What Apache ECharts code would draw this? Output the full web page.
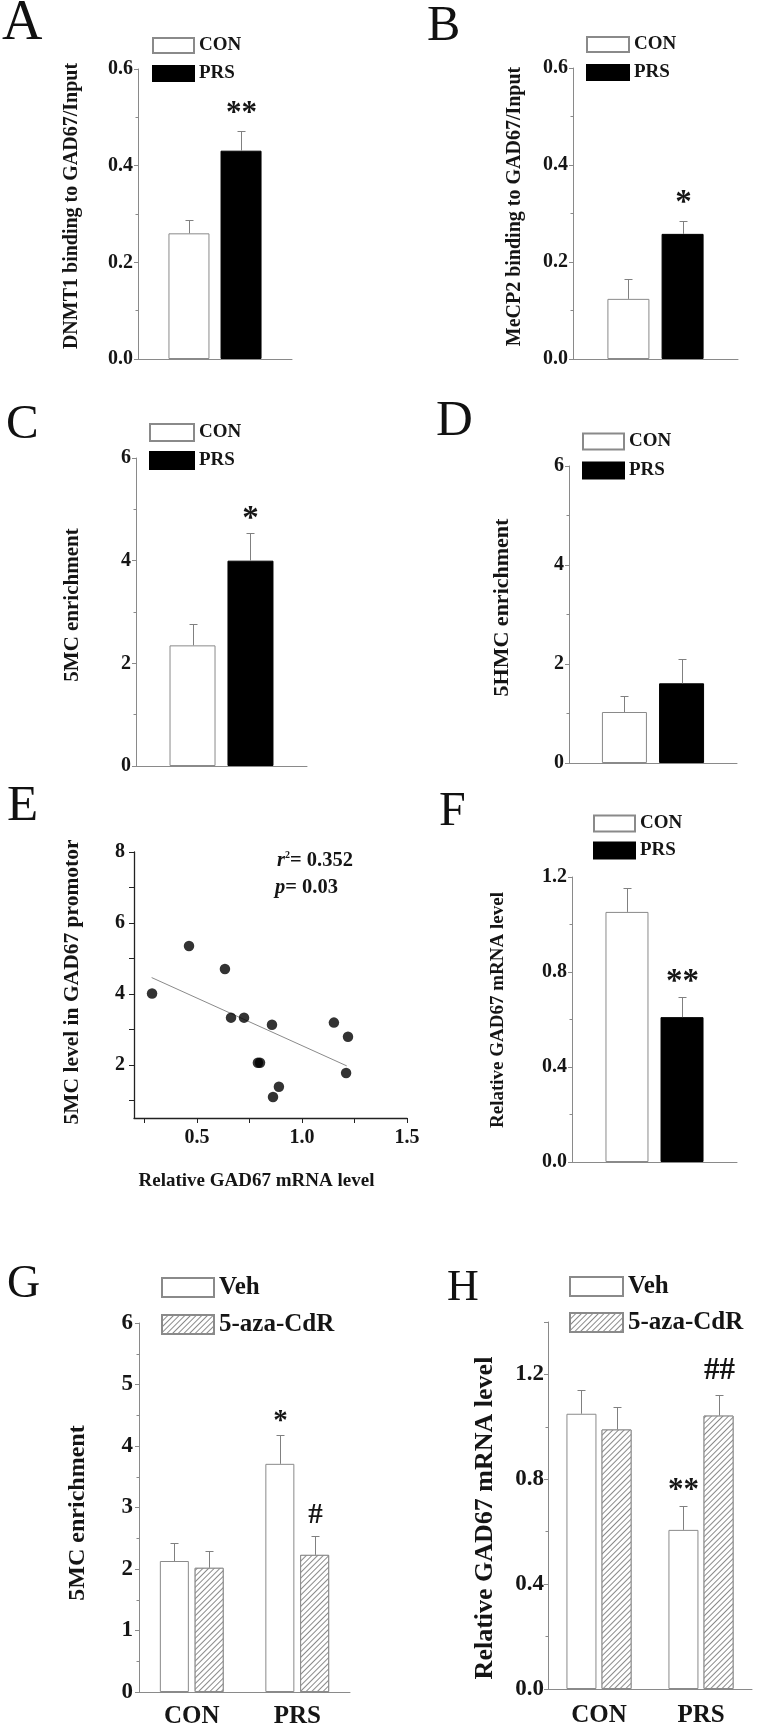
<!DOCTYPE html>
<html>
<head>
<meta charset="utf-8">
<script src="https://cdn.jsdelivr.net/npm/echarts@6.0.0/dist/echarts.min.js"></script>
<style>
html,body{margin:0;padding:0;background:#fff;}
#c{width:760px;height:1730px;}
</style>
</head>
<body>
<div id="c"></div>
<script>
// ================= DATA =================
const groupNames = ['CON', 'PRS'];          // A–F legend / series names
const A_mean = [0.26, 0.431];
const A_sem  = [0.027, 0.041];
const A_sig  = ['', '**'];
const B_mean = [0.124, 0.258];
const B_sem  = [0.041, 0.027];
const B_sig  = ['', '*'];
const C_mean = [2.35, 4.00];
const C_sem  = [0.41, 0.54];
const C_sig  = ['', '*'];
const D_mean = [1.03, 1.61];
const D_sem  = [0.32, 0.50];
const D_sig  = ['', ''];
const F_mean = [1.053, 0.61];
const F_sem  = [0.10, 0.085];
const F_sig  = ['', '**'];

// E: scatter + regression
const E_x = [0.286, 0.462, 0.633, 0.662, 0.724, 0.790, 0.800, 0.857, 0.862, 0.890, 1.152, 1.219, 1.210];
const E_y = [4.01, 5.35, 4.70, 3.33, 3.33, 2.06, 2.06, 3.13, 1.09, 1.38, 3.19, 2.79, 1.77];
const E_fit_x = [0.284, 1.213];
const E_fit_y = [4.46, 1.97];
const E_r2 = '0.352';
const E_p = '0.03';
const E_xTicks = [0.25, 0.5, 0.75, 1.0, 1.25, 1.5];
const E_xLabels = [0.5, 1.0, 1.5];
const E_yTicks = [1, 2, 3, 4, 5, 6, 7, 8];
const E_yLabels = [2, 4, 6, 8];

// G, H: 2x2 design
const ghCats = ['CON', 'PRS'];
const ghTreat = ['Veh', '5-aza-CdR'];
const G_veh = [2.13, 3.71];
const G_vehSem = [0.29, 0.47];
const G_vehSig = ['', '*'];
const G_aza = [2.02, 2.23];
const G_azaSem = [0.27, 0.31];
const G_azaSig = ['', '#'];
const H_veh = [1.05, 0.607];
const H_vehSem = [0.09, 0.09];
const H_vehSig = ['', '**'];
const H_aza = [0.99, 1.043];
const H_azaSem = [0.084, 0.08];
const H_azaSig = ['', '##'];

// ================= STYLE =================
const SERIF = '"Liberation Serif", "Times New Roman", serif';
const AX = '#8a8a8a';
const ERR = '#808080';
const TXT = '#151515';
const styleWhite = {color: '#fff', borderColor: '#8a8a8a', borderWidth: 1};
const styleBlack = {color: '#000', borderColor: '#000', borderWidth: 1};
const styleHatch = {
  color: '#fff', borderColor: '#8a8a8a', borderWidth: 1,
  decal: {symbol: 'rect', symbolSize: 1, color: '#8a8a8a', backgroundColor: '#fff',
          dashArrayX: [1, 0], dashArrayY: [1, 3], rotation: -Math.PI / 4}
};

const option = {
  backgroundColor: '#fff', animation: false,
  grid: [], xAxis: [], yAxis: [], series: [], legend: [], graphic: []
};

function errSeries(gi, means, sems, sigs, offset, sig) {
  return {
    type: 'custom', xAxisIndex: gi, yAxisIndex: gi, silent: true, z: 5,
    data: means.map((m, i) => [i, m, sems[i]]),
    renderItem: function (params, api) {
      const i = api.value(0), m = api.value(1), e = api.value(2);
      const b = api.coord([i, m]);
      const t = api.coord([i, m + e]);
      const x = Math.round(b[0] + offset) + 0.5;
      const ty = Math.round(t[1]) + 0.5;
      const ch = [
        {type: 'line', shape: {x1: x, y1: b[1], x2: x, y2: ty}, style: {stroke: ERR, lineWidth: 1}},
        {type: 'line', shape: {x1: x - 4, y1: ty, x2: x + 4, y2: ty}, style: {stroke: ERR, lineWidth: 1}}
      ];
      const s = sigs[params.dataIndex];
      if (s) {
        ch.push({type: 'text', x: x, y: ty - sig.gap,
          style: {text: s, textAlign: 'center', textVerticalAlign: 'middle',
                  fontFamily: SERIF, fontWeight: 'bold', fontSize: sig.size, fill: TXT}});
      }
      return {type: 'group', children: ch};
    }
  };
}

function barPanel(p) {
  const gi = option.grid.length;
  option.grid.push({left: p.left, top: p.top, width: p.width, height: p.height});
  option.xAxis.push({
    type: 'category', gridIndex: gi, data: p.cats,
    axisLine: {show: true, lineStyle: {color: AX, width: 1}},
    axisTick: {show: false}, splitLine: {show: false},
    axisLabel: p.showCats ? {fontFamily: SERIF, fontWeight: 'bold', fontSize: p.catFont, color: TXT, margin: p.catMargin} : {show: false}
  });
  option.yAxis.push({
    type: 'value', gridIndex: gi, min: 0, max: p.max, interval: p.interval,
    axisLine: {show: true, lineStyle: {color: AX, width: 1}},
    axisTick: {show: true, length: 4, lineStyle: {color: AX}},
    minorTick: {show: true, splitNumber: 2, length: 2.5, lineStyle: {color: AX}},
    splitLine: {show: false}, minorSplitLine: {show: false},
    axisLabel: {fontFamily: SERIF, fontWeight: 'bold', fontSize: p.tickFont, color: TXT,
                margin: p.labelMargin, formatter: p.fmt, showMaxLabel: p.showMax !== false},
    name: p.yName, nameLocation: 'middle', nameGap: p.nameGap,
    nameTextStyle: {fontFamily: SERIF, fontWeight: 'bold', fontSize: p.nameFont, color: TXT, padding: p.namePad}
  });
  const n = p.series.length;
  const step = p.barWidth * (1 + p.gapFrac);
  p.series.forEach((s, k) => {
    option.series.push({
      type: 'bar', name: s.name, xAxisIndex: gi, yAxisIndex: gi, data: s.mean,
      barWidth: p.barWidth, barGap: (p.gapFrac * 100) + '%', itemStyle: s.style, silent: true, z: 2
    });
    option.series.push(errSeries(gi, s.mean, s.sem, s.sig, (k - (n - 1) / 2) * step, s.sigStyle || {size: 30, gap: 16}));
  });
  option.legend.push({
    orient: 'vertical', left: p.leg.left, top: p.leg.top, padding: 0,
    itemWidth: p.leg.w, itemHeight: p.leg.h, itemGap: p.leg.gap, icon: 'rect', selectedMode: false,
    data: p.series.map(s => s.name),
    textStyle: {fontFamily: SERIF, fontWeight: 'bold', fontSize: p.leg.font, color: TXT, lineHeight: p.leg.h}
  });
}

const f1 = v => v.toFixed(1);
const f0 = v => String(v);

// ---- A ----
barPanel({left: 138, top: 69, width: 154, height: 290, max: 0.6, interval: 0.2, fmt: f1,
  tickFont: 20, labelMargin: 5, cats: ['GAD67'], showCats: false,
  yName: 'DNMT1 binding to GAD67/Input', nameFont: 20, nameGap: 56, namePad: [0, 0, 0, 16],
  barWidth: 41, gapFrac: 0.27,
  leg: {left: 152, top: 36, w: 41, h: 15, gap: 9, font: 19},
  series: [
    {name: groupNames[0], mean: [A_mean[0]], sem: [A_sem[0]], sig: [A_sig[0]], style: styleWhite},
    {name: groupNames[1], mean: [A_mean[1]], sem: [A_sem[1]], sig: [A_sig[1]], style: styleBlack, sigStyle: {size: 31, gap: 17.5}}
  ]});
// ---- B ----
barPanel({left: 573, top: 68, width: 165, height: 291, max: 0.6, interval: 0.2, fmt: f1,
  tickFont: 20, labelMargin: 5, cats: ['GAD67'], showCats: false,
  yName: 'MeCP2 binding to GAD67/Input', nameFont: 20, nameGap: 48, namePad: [0, 0, 0, 14],
  barWidth: 42, gapFrac: 0.29,
  leg: {left: 586, top: 35, w: 42, h: 15, gap: 9, font: 19},
  series: [
    {name: groupNames[0], mean: [B_mean[0]], sem: [B_sem[0]], sig: [B_sig[0]], style: styleWhite},
    {name: groupNames[1], mean: [B_mean[1]], sem: [B_sem[1]], sig: [B_sig[1]], style: styleBlack, sigStyle: {size: 33, gap: 18}}
  ]});
// ---- C ----
barPanel({left: 136, top: 458, width: 171, height: 308, max: 6, interval: 2, fmt: f0,
  tickFont: 20, labelMargin: 5, cats: ['GAD67'], showCats: false,
  yName: '5MC enrichment', nameFont: 21, nameGap: 53, namePad: [0, 0, 0, 14],
  barWidth: 46, gapFrac: 0.26,
  leg: {left: 149, top: 423, w: 44, h: 17, gap: 9, font: 19},
  series: [
    {name: groupNames[0], mean: [C_mean[0]], sem: [C_sem[0]], sig: [C_sig[0]], style: styleWhite},
    {name: groupNames[1], mean: [C_mean[1]], sem: [C_sem[1]], sig: [C_sig[1]], style: styleBlack, sigStyle: {size: 33, gap: 14.5}}
  ]});
// ---- D ----
barPanel({left: 569, top: 466, width: 168, height: 297, max: 6, interval: 2, fmt: f0,
  tickFont: 20, labelMargin: 5, cats: ['GAD67'], showCats: false,
  yName: '5HMC enrichment', nameFont: 22, nameGap: 56, namePad: [0, 0, 0, 14],
  barWidth: 45, gapFrac: 0.27,
  leg: {left: 582, top: 432, w: 41, h: 16, gap: 10, font: 19},
  series: [
    {name: groupNames[0], mean: [D_mean[0]], sem: [D_sem[0]], sig: [D_sig[0]], style: styleWhite},
    {name: groupNames[1], mean: [D_mean[1]], sem: [D_sem[1]], sig: [D_sig[1]], style: styleBlack}
  ]});
// ---- F ----
barPanel({left: 572, top: 877, width: 165, height: 285, max: 1.2, interval: 0.4, fmt: f1,
  tickFont: 20, labelMargin: 5, cats: ['GAD67'], showCats: false,
  yName: 'Relative GAD67 mRNA level', nameFont: 19, nameGap: 64, namePad: [0, 0, 0, 19],
  barWidth: 43, gapFrac: 0.28,
  leg: {left: 593, top: 814, w: 41, h: 16, gap: 8, font: 19},
  series: [
    {name: groupNames[0], mean: [F_mean[0]], sem: [F_sem[0]], sig: [F_sig[0]], style: styleWhite},
    {name: groupNames[1], mean: [F_mean[1]], sem: [F_sem[1]], sig: [F_sig[1]], style: styleBlack, sigStyle: {size: 33, gap: 15}}
  ]});
// ---- G ----
barPanel({left: 139, top: 1323, width: 211, height: 369, max: 6, interval: 1, fmt: f0,
  tickFont: 23, labelMargin: 6, cats: ghCats, showCats: true, catFont: 25, catMargin: 12,
  yName: '5MC enrichment', nameFont: 24, nameGap: 49, namePad: [0, 11, 0, 0],
  barWidth: 29, gapFrac: 0.2,
  leg: {left: 161, top: 1275, w: 52, h: 19, gap: 12, font: 25},
  series: [
    {name: ghTreat[0], mean: G_veh, sem: G_vehSem, sig: G_vehSig, style: styleWhite, sigStyle: {size: 29, gap: 14}},
    {name: ghTreat[1], mean: G_aza, sem: G_azaSem, sig: G_azaSig, style: styleHatch, sigStyle: {size: 29, gap: 21}}
  ]});
// ---- H ----
barPanel({left: 548, top: 1322, width: 204, height: 367, max: 1.4, interval: 0.4, fmt: f1, showMax: false,
  tickFont: 23, labelMargin: 4, cats: ghCats, showCats: true, catFont: 25, catMargin: 14,
  yName: 'Relative GAD67 mRNA level', nameFont: 26, nameGap: 50, namePad: [0, 25, 0, 0],
  barWidth: 30, gapFrac: 0.17,
  leg: {left: 569, top: 1274, w: 53, h: 19, gap: 11, font: 25},
  series: [
    {name: ghTreat[0], mean: H_veh, sem: H_vehSem, sig: H_vehSig, style: styleWhite, sigStyle: {size: 31, gap: 15.5}},
    {name: ghTreat[1], mean: H_aza, sem: H_azaSem, sig: H_azaSig, style: styleHatch, sigStyle: {size: 31, gap: 25}}
  ]});

// ---- E (scatter) ----
(function () {
  const gi = option.grid.length;
  option.grid.push({left: 134, top: 852, width: 273, height: 266});
  const axLine = {show: true, onZero: false, lineStyle: {color: '#222', width: 1.3}};
  option.xAxis.push({
    type: 'value', gridIndex: gi, min: 0.2, max: 1.5,
    axisLine: axLine, splitLine: {show: false},
    axisTick: {show: true, length: 5, customValues: E_xTicks, lineStyle: {color: '#222'}},
    axisLabel: {customValues: E_xLabels, formatter: f1, fontFamily: SERIF, fontWeight: 'bold', fontSize: 20, color: TXT, margin: 10},
    name: 'Relative GAD67 mRNA level', nameLocation: 'middle', nameGap: 54,
    nameTextStyle: {fontFamily: SERIF, fontWeight: 'bold', fontSize: 19, color: TXT, padding: [0, 28, 0, 0]}
  });
  option.yAxis.push({
    type: 'value', gridIndex: gi, min: 0.5, max: 8,
    axisLine: axLine, splitLine: {show: false},
    axisTick: {show: true, length: 5, customValues: E_yTicks, lineStyle: {color: '#222'}},
    axisLabel: {customValues: E_yLabels, formatter: f0, fontFamily: SERIF, fontWeight: 'bold', fontSize: 20, color: TXT, margin: 9},
    name: '5MC level in GAD67 promotor', nameLocation: 'middle', nameGap: 51,
    nameTextStyle: {fontFamily: SERIF, fontWeight: 'bold', fontSize: 21.5, color: TXT, padding: [0, 0, 0, 6]}
  });
  option.series.push({
    type: 'line', xAxisIndex: gi, yAxisIndex: gi, silent: true, symbol: 'none',
    data: E_fit_x.map((x, i) => [x, E_fit_y[i]]),
    lineStyle: {color: '#8a8a8a', width: 1}, z: 2
  });
  option.series.push({
    type: 'scatter', xAxisIndex: gi, yAxisIndex: gi, silent: true, symbolSize: 10.5,
    data: E_x.map((x, i) => [x, E_y[i]]),
    itemStyle: {color: '#000'}, z: 3
  });
})();

// ---- panel letters & stats text ----
const letters = [
  ['A', 2, 24, 56], ['B', 427, 27, 50], ['C', 6, 425, 49], ['D', 436, 422, 51],
  ['E', 7, 807, 51], ['F', 439, 812, 48], ['G', 7, 1285, 46], ['H', 447, 1288, 44]
];
letters.forEach(l => option.graphic.push({
  type: 'text', x: l[1], y: l[2], silent: true,
  style: {text: l[0], fontFamily: SERIF, fontSize: l[3], fill: '#111', textAlign: 'left', textVerticalAlign: 'middle'}
}));
option.graphic.push({
  type: 'text', x: 277, y: 861, silent: true,
  style: {text: '{i|r}{s|2}= ' + E_r2, fontFamily: SERIF, fontWeight: 'bold', fontSize: 20.5, fill: TXT,
          textVerticalAlign: 'middle',
          rich: {i: {fontFamily: SERIF, fontWeight: 'bold', fontStyle: 'italic', fontSize: 20.5},
                 s: {fontFamily: SERIF, fontWeight: 'bold', fontSize: 10, verticalAlign: 'top', padding: [0, 0, 6, 0]}}}
});
option.graphic.push({
  type: 'text', x: 275, y: 888, silent: true,
  style: {text: '{i|p}= ' + E_p, fontFamily: SERIF, fontWeight: 'bold', fontSize: 20.5, fill: TXT,
          textVerticalAlign: 'middle',
          rich: {i: {fontFamily: SERIF, fontWeight: 'bold', fontStyle: 'italic', fontSize: 20.5}}}
});

const chart = echarts.init(document.getElementById('c'), null, {renderer: 'canvas'});
chart.setOption(option);
</script>
</body>
</html>
